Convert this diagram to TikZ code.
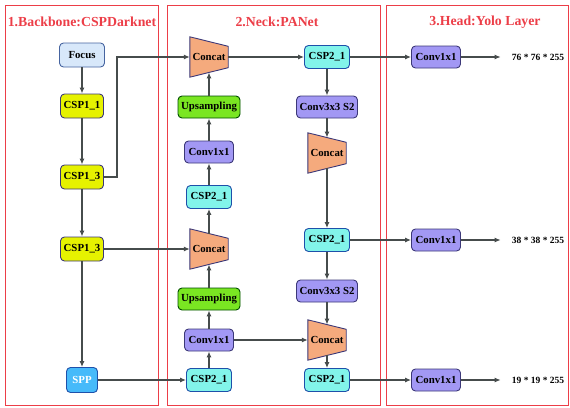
\documentclass[tikz,border=0pt]{standalone}
\usepackage{fontspec}
\setmainfont{Liberation Serif}
\usetikzlibrary{arrows.meta,backgrounds}
\definecolor{panelred}{RGB}{236,62,72}
\definecolor{linegray}{RGB}{70,76,76}
\definecolor{focusfill}{RGB}{216,232,250}
\definecolor{focusedge}{RGB}{70,100,160}
\definecolor{yellowfill}{RGB}{230,242,0}
\definecolor{sppfill}{RGB}{70,186,250}
\definecolor{sppedge}{RGB}{30,80,170}
\definecolor{cyanfill}{RGB}{130,244,234}
\definecolor{convfill}{RGB}{162,152,244}
\definecolor{greenfill}{RGB}{122,230,34}
\definecolor{catfill}{RGB}{245,170,125}
\definecolor{darkedge}{RGB}{60,56,120}

\begin{document}
\begin{tikzpicture}[x=1pt, y=1pt, node distance={50pt}, >={Latex[length=6pt,width=5pt]},
  box/.style = {draw=darkedge, rounded corners=4pt, line width=0.9pt, inner sep=1.5pt,
    minimum height=22pt, font=\fontsize{10.8}{12}\selectfont\bfseries},
  focus/.style = {box, draw=focusedge, fill=focusfill, minimum width=45pt, minimum height=24pt},
  csp1/.style = {box, fill=yellowfill, minimum width=43pt, minimum height=24pt},
  spp/.style = {box, draw=sppedge, fill=sppfill, text=white, minimum width=31pt, minimum height=25pt},
  csp2/.style = {box, draw=sppedge, fill=cyanfill, minimum width=45pt, minimum height=23pt},
  conv/.style = {box, fill=convfill, minimum width=49pt},
  conv3/.style = {box, fill=convfill, minimum width=61pt},
  upsamp/.style = {box, draw=black!70!green, fill=greenfill, minimum width=62pt},
  concat/.style = {minimum width=38pt, minimum height=40pt, inner sep=0pt,
    font=\fontsize{10.8}{12}\selectfont\bfseries},
  outtext/.style = {inner sep=1pt, font=\fontsize{9.5}{11}\selectfont\bfseries},
  title/.style = {text=panelred, font=\fontsize{13.8}{15}\selectfont\bfseries},
  arrow/.style = {->, draw=linegray, line width=1.1pt}]
\useasboundingbox (0,0) rectangle (570,-407);
\draw[panelred, line width=0.8pt] (5,-5) rectangle (158,-405);
\draw[panelred, line width=0.8pt] (167,-5) rectangle (380,-405);
\draw[panelred, line width=0.8pt] (386,-5) rectangle (568,-405);
\node[title] (t1) at (82,-22) {1.Backbone:CSPDarknet};
\node[title] (t2) at (277,-22) {2.Neck:PANet};
\node[title] (t3) at (485,-22) {3.Head:Yolo Layer};
\node[focus] (focus) at (82,-55) {Focus};
\node[csp1] (csp11) [node distance=51pt, below of=focus] {CSP1\_1};
\node[csp1] (csp13a) [node distance=71pt, below of=csp11] {CSP1\_3};
\node[csp1] (csp13b) [node distance=72pt, below of=csp13a] {CSP1\_3};
\node[spp] (spp) [node distance=131pt, below of=csp13b] {SPP};
\node[concat] (cat1) at (209,-57) {Concat};
\node[upsamp] (up1) [below of=cat1] {Upsampling};
\node[conv] (conv1) [node distance=45pt, below of=up1] {Conv1x1};
\node[csp2] (cspl1) [node distance=45pt, below of=conv1] {CSP2\_1};
\node[concat] (cat2) [node distance=52pt, below of=cspl1] {Concat};
\node[upsamp] (up2) [below of=cat2] {Upsampling};
\node[conv] (conv2) [node distance=41pt, below of=up2] {Conv1x1};
\node[csp2] (cspl2) [node distance=40pt, below of=conv2] {CSP2\_1};
\node[csp2] (cspr1) [node distance=118pt, right of=cat1] {CSP2\_1};
\node[conv3] (conv3a) [below of=cspr1] {Conv3x3 S2};
\node[concat] (catr1) [node distance=46pt, below of=conv3a] {Concat};
\node[csp2] (cspr2) [node distance=87pt, below of=catr1] {CSP2\_1};
\node[conv3] (conv3b) [node distance=51pt, below of=cspr2] {Conv3x3 S2};
\node[concat] (catr2) [node distance=118pt, right of=conv2] {Concat};
\node[csp2] (cspr3) [node distance=40pt, below of=catr2] {CSP2\_1};
\node[conv] (head1) [node distance=109pt, right of=cspr1] {Conv1x1};
\node[conv] (head2) [node distance=109pt, right of=cspr2] {Conv1x1};
\node[conv] (head3) [node distance=109pt, right of=cspr3] {Conv1x1};
\node[outtext] (out1) [node distance=102pt, right of=head1] {76 * 76 * 255};
\node[outtext] (out2) [node distance=102pt, right of=head2] {38 * 38 * 255};
\node[outtext] (out3) [node distance=102pt, right of=head3] {19 * 19 * 255};
\coordinate (bend) at (117,-57);
\begin{scope}[on background layer]
\foreach \c in {cat1,cat2,catr1,catr2}
  \filldraw[fill=catfill, draw=darkedge, line width=0.9pt] (\c.north west) -- ([yshift=-9.5pt]\c.north east)
    -- ([yshift=9.5pt]\c.south east) -- (\c.south west) -- cycle;
\end{scope}
\draw[arrow] (focus) -- (csp11);
\draw[arrow] (csp11) -- (csp13a);
\draw[arrow] (csp13a) -- (csp13b);
\draw[arrow] (csp13b) -- (spp);
\draw[arrow] (csp13a.east) -| (bend) -- (cat1.west);
\draw[arrow] (csp13b) -- (cat2.west);
\draw[arrow] (spp) -- (cspl2);
\draw[arrow] (cspl2) -- (conv2);
\draw[arrow] (conv2) -- (up2);
\draw[arrow] (up2) -- ([yshift=4.75pt]cat2.south);
\draw[arrow] ([yshift=-4.75pt]cat2.north) -- (cspl1);
\draw[arrow] (cspl1) -- (conv1);
\draw[arrow] (conv1) -- (up1);
\draw[arrow] (up1) -- ([yshift=4.75pt]cat1.south);
\draw[arrow] (cat1) -- (cspr1);
\draw[arrow] (cspr1) -- (conv3a);
\draw[arrow] (conv3a) -- ([yshift=-4.75pt]catr1.north);
\draw[arrow] ([yshift=4.75pt]catr1.south) -- (cspr2);
\draw[arrow] (cspr2) -- (conv3b);
\draw[arrow] (conv3b) -- ([yshift=-4.75pt]catr2.north);
\draw[arrow] (conv2) -- (catr2.west);
\draw[arrow] ([yshift=4.75pt]catr2.south) -- (cspr3);
\draw[arrow] (cspr1) -- (head1);
\draw[arrow] (cspr2) -- (head2);
\draw[arrow] (cspr3) -- (head3);
\draw[arrow, shorten >=10pt] (head1) -- (out1);
\draw[arrow, shorten >=10pt] (head2) -- (out2);
\draw[arrow, shorten >=10pt] (head3) -- (out3);
\end{tikzpicture}
\end{document}
